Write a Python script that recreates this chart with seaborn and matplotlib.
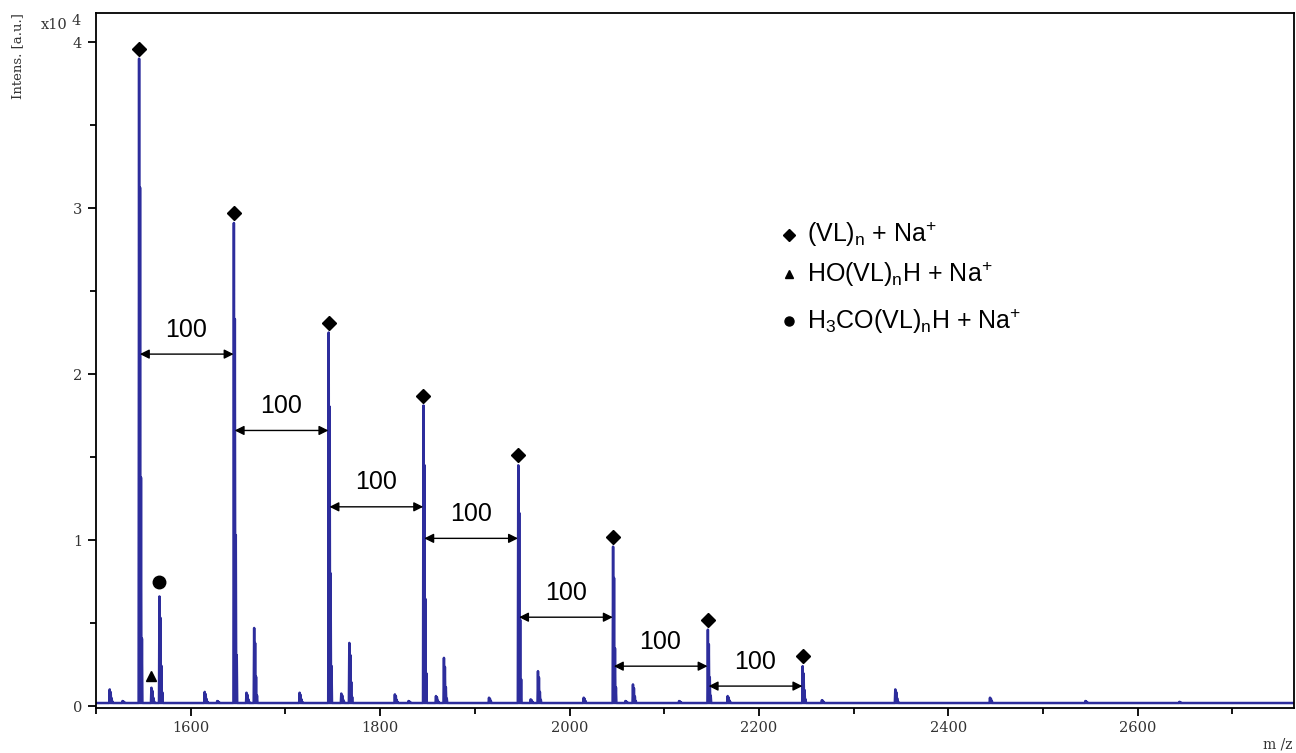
import numpy as np
import pandas as pd
import matplotlib
matplotlib.use("Agg")
import matplotlib.pyplot as plt
import seaborn as sns

# ---- data (intensity in units of 10^4) ----
main_mz = [1545.5, 1645.6, 1745.7, 1845.8, 1945.9, 2046.0, 2146.1, 2246.2]
main_int = [3.90, 2.91, 2.25, 1.81, 1.45, 0.96, 0.46, 0.24]
methoxy_mz = [1567.0, 1667.0, 1767.5, 1867.4, 1966.7, 2067.0, 2167.0, 2266.5]
methoxy_int = [0.66, 0.47, 0.38, 0.29, 0.21, 0.13, 0.06, 0.035]
hydroxy_mz = [1558.5, 1658.9, 1759.0, 1859.0, 1959.0, 2059.0, 2159.0]
hydroxy_int = [0.11, 0.08, 0.075, 0.06, 0.04, 0.03, 0.02]
other_mz = [1514.5, 1528.0, 1614.8, 1628.0, 1715.0, 1815.6, 1830.0, 1915.0,
            2015.0, 2115.7, 2312.0, 2344.0, 2363.0, 2444.0, 2544.7, 2644.0]
other_int = [0.10, 0.03, 0.085, 0.03, 0.08, 0.07, 0.03, 0.05,
             0.05, 0.03, 0.01, 0.10, 0.02, 0.05, 0.03, 0.025]
isotope_ratio = [1.0, 0.8, 0.35, 0.1]
baseline = 0.018
mz_range = [1500, 2765]
spacing_labels = ["100"] * 7
arrow_levels = [2.12, 1.66, 1.20, 1.01, 0.535, 0.24, 0.12]
legend_labels = [r"(VL)$_\mathregular{n}$ + Na$^\mathregular{+}$",
                 r"HO(VL)$_\mathregular{n}$H + Na$^\mathregular{+}$",
                 r"H$_\mathregular{3}$CO(VL)$_\mathregular{n}$H + Na$^\mathregular{+}$"]

# ---- build the spectrum trace from the peak lists ----
peaks = []
for mzs, ints in [(main_mz, main_int), (methoxy_mz, methoxy_int),
                  (hydroxy_mz, hydroxy_int), (other_mz, other_int)]:
    for m, h in zip(mzs, ints):
        for k, r in enumerate(isotope_ratio):
            hh = baseline + (h - baseline) * r
            if hh > baseline + 0.004:
                peaks.append((m + k, hh))
peaks.sort()
xs, ys = [mz_range[0]], [baseline]
for m, h in peaks:
    xs += [m - 0.5, m, m + 0.5]
    ys += [baseline, h, baseline]
xs.append(mz_range[1]); ys.append(baseline)
df = pd.DataFrame({"mz": xs, "intensity": ys})

sns.set_style("ticks")
plt.rcParams["font.family"] = ["Liberation Sans", "DejaVu Sans"]
plt.rcParams["mathtext.default"] = "regular"

fig = plt.figure(figsize=(12.96, 7.53), dpi=100)
ax = fig.add_axes([96 / 1296, 45 / 753, (1294 - 96) / 1296, (708 - 13) / 753])

sns.lineplot(data=df, x="mz", y="intensity", estimator=None, sort=False,
             color="#2d2d9c", lw=1.8, ax=ax)

# markers
ax.plot(main_mz, [h + 0.06 for h in main_int], ls="none", marker="D",
        ms=7.5, color="black")
ax.plot([methoxy_mz[0]], [methoxy_int[0] + 0.085], ls="none", marker="o",
        ms=9, color="black")
ax.plot([hydroxy_mz[0]], [hydroxy_int[0] + 0.07], ls="none", marker="^",
        ms=6.5, color="black")

# spacing arrows
for i, (lvl, lab) in enumerate(zip(arrow_levels, spacing_labels)):
    x1, x2 = main_mz[i] + 0.8, main_mz[i + 1] - 0.3
    ax.annotate("", xy=(x2, lvl), xytext=(x1, lvl),
                arrowprops=dict(arrowstyle="<|-|>", color="black", lw=1.0,
                                mutation_scale=14, shrinkA=0, shrinkB=0))
    ax.text((main_mz[i] + main_mz[i + 1]) / 2, lvl + 0.075, lab,
            ha="center", va="bottom", fontsize=18, color="black")

# legend (text entries)
leg_markers = ["D", "^", "o"]
leg_sizes = [6, 6, 6.5]
leg_y = [2.84, 2.60, 2.32]
for mk, ms, yy, lab in zip(leg_markers, leg_sizes, leg_y, legend_labels):
    ax.plot([2232], [yy], ls="none", marker=mk, ms=ms, color="black")
    ax.text(2251, yy, lab, ha="left", va="center", fontsize=18, color="black")

ax.set_xlim(*mz_range)
ax.set_ylim(-0.012, 4.175)
ax.set_xticks(np.arange(1600, 2700, 200))
ax.set_xticks(np.arange(1500, 2800, 100), minor=True)
ax.set_yticks([0, 1, 2, 3, 4])
ax.set_yticks(np.arange(0, 4.1, 0.5), minor=True)
ax.set_xlabel("")
ax.set_ylabel("")
for s in ax.spines.values():
    s.set_visible(True)
    s.set_color("black")
    s.set_linewidth(1.3)
ax.tick_params(axis="both", which="major", direction="out", length=6,
               width=1.3, color="black", labelsize=10.5, labelcolor="#333333")
ax.tick_params(axis="both", which="minor", direction="out", length=4.5,
               width=1.3, color="black")
ax.tick_params(axis="y", pad=4)
for lbl in ax.get_xticklabels() + ax.get_yticklabels():
    lbl.set_fontfamily("DejaVu Serif")

fig.text(18 / 1296, 1 - 56 / 753, "Intens. [a.u.]", rotation=90, ha="center",
         va="center", fontsize=9.5, family="DejaVu Serif", color="#333333")
fig.text(41 / 1296, 1 - 25 / 753, "x10", ha="left", va="center",
         fontsize=10.5, family="DejaVu Serif", color="#333333")
fig.text(71 / 1296, 1 - 21 / 753, "4", ha="left", va="center",
         fontsize=10.5, family="DejaVu Serif", color="#333333")
fig.text(1263 / 1296, 1 - 744 / 753, "m /z", ha="left", va="center",
         fontsize=10, family="DejaVu Serif", color="#333333")

fig.savefig("out.png", dpi=100, facecolor="white")
